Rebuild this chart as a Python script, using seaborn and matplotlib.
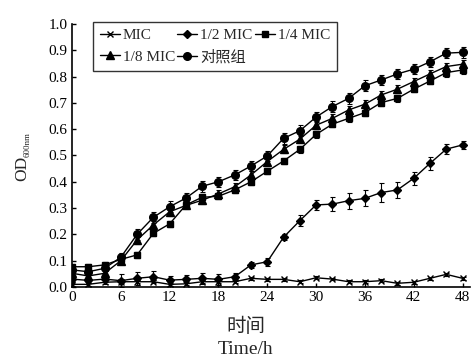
import pandas as pd
import matplotlib
matplotlib.use("Agg")
import matplotlib.pyplot as plt
import seaborn as sns

sns.set_style("ticks")
plt.rcParams['font.family'] = ['Liberation Serif', 'Noto Sans CJK SC']

# time points (h)
hours = [0, 2, 4, 6, 8, 10, 12, 14, 16, 18, 20, 22, 24, 26, 28, 30, 32, 34, 36, 38, 40, 42, 44, 46, 48]

mic = [0.010, 0.010, 0.018, 0.020, 0.020, 0.020, 0.010, 0.012, 0.020, 0.020, 0.020, 0.033, 0.029, 0.029, 0.020,
       0.035, 0.030, 0.020, 0.020, 0.024, 0.014, 0.018, 0.033, 0.048, 0.033]
half_mic = [0.030, 0.025, 0.030, 0.024, 0.033, 0.039, 0.026, 0.029, 0.033, 0.029, 0.039, 0.084, 0.096, 0.189, 0.252,
            0.312, 0.315, 0.328, 0.337, 0.359, 0.369, 0.413, 0.470, 0.524, 0.540]
quarter_mic = [0.077, 0.077, 0.084, 0.105, 0.122, 0.204, 0.240, 0.312, 0.341, 0.345, 0.369, 0.400, 0.440, 0.479, 0.523,
               0.580, 0.619, 0.641, 0.663, 0.701, 0.717, 0.752, 0.783, 0.815, 0.825]
eighth_mic = [0.052, 0.042, 0.052, 0.100, 0.179, 0.236, 0.286, 0.310, 0.330, 0.354, 0.381, 0.426, 0.477, 0.523, 0.562,
              0.615, 0.641, 0.673, 0.695, 0.730, 0.752, 0.781, 0.810, 0.838, 0.847]
control = [0.065, 0.058, 0.071, 0.113, 0.200, 0.265, 0.305, 0.338, 0.383, 0.400, 0.426, 0.460, 0.498, 0.565, 0.594,
           0.646, 0.686, 0.717, 0.765, 0.787, 0.810, 0.828, 0.856, 0.889, 0.892]

# error bars (SD)
mic_err = [0.005, 0.005, 0.005, 0.005, 0.005, 0.005, 0.005, 0.005, 0.005, 0.005, 0.005, 0.005, 0.005, 0.005, 0.005,
           0.005, 0.005, 0.005, 0.005, 0.005, 0.005, 0.005, 0.005, 0.005, 0.005]
half_err = [0.010, 0.010, 0.012, 0.025, 0.025, 0.020, 0.015, 0.015, 0.020, 0.020, 0.015, 0.012, 0.015, 0.012, 0.020,
            0.020, 0.028, 0.030, 0.030, 0.035, 0.030, 0.025, 0.025, 0.020, 0.015]
quarter_err = [0.010, 0.010, 0.010, 0.012, 0.012, 0.012, 0.012, 0.012, 0.012, 0.012, 0.012, 0.012, 0.012, 0.012, 0.012,
               0.012, 0.012, 0.012, 0.012, 0.012, 0.012, 0.012, 0.012, 0.015, 0.015]
eighth_err = [0.010, 0.010, 0.010, 0.012, 0.015, 0.015, 0.015, 0.015, 0.015, 0.015, 0.015, 0.015, 0.015, 0.015, 0.015,
              0.015, 0.015, 0.015, 0.015, 0.015, 0.015, 0.015, 0.015, 0.015, 0.015]
control_err = [0.012, 0.012, 0.012, 0.015, 0.020, 0.020, 0.020, 0.020, 0.020, 0.020, 0.020, 0.020, 0.020, 0.020, 0.020,
               0.020, 0.020, 0.020, 0.020, 0.020, 0.020, 0.020, 0.020, 0.020, 0.020]

series = [
    ("MIC", mic, mic_err, "x", 4.5),
    ("1/2 MIC", half_mic, half_err, "D", 4),
    ("1/4 MIC", quarter_mic, quarter_err, "s", 5),
    ("1/8 MIC", eighth_mic, eighth_err, "^", 5.5),
    ("对照组", control, control_err, "o", 5.5),
]

fig = plt.figure(figsize=(4.77, 3.59), dpi=100)
ax = fig.add_axes([0.151, 0.2006, 0.834, 0.7327])

for name, vals, err, mk, ms in series:
    df = pd.DataFrame({"t": hours, "od": vals})
    sns.lineplot(data=df, x="t", y="od", ax=ax, color="black", lw=1.0,
                 marker=mk, markersize=ms, markeredgecolor="black",
                 markeredgewidth=1.0, label=name, legend=False)
    ax.errorbar(hours, vals, yerr=err, fmt="none", ecolor="black",
                elinewidth=0.8, capsize=1.8, capthick=0.8)

names = [s[0] for s in series]
by_name = {l.get_label(): l for l in ax.get_lines() if l.get_label() in names}
# column-wise fill so rows read: MIC, 1/2, 1/4 / 1/8, control
order = ["MIC", "1/8 MIC", "1/2 MIC", "对照组", "1/4 MIC"]
leg = ax.legend([by_name[n] for n in order], order, ncol=3, loc="upper left",
                bbox_to_anchor=(0.053, 1.008), borderaxespad=0, fontsize=11,
                frameon=True, fancybox=False, edgecolor="black",
                handlelength=1.3, handletextpad=0.2, columnspacing=0.15,
                labelspacing=0.5, borderpad=0.45)
leg.get_frame().set_linewidth(1.0)

ax.set_xlim(0, 48.9)
ax.set_ylim(0, 1.0)
ax.set_xticks(range(0, 49, 6))
ax.set_yticks([i / 10 for i in range(11)])
ax.set_yticklabels([f"{i / 10:.1f}" for i in range(11)])
ax.tick_params(direction="in", length=3, width=1, labelsize=11, colors="black", pad=3)

sns.despine(ax=ax)
for sp in ["left", "bottom"]:
    ax.spines[sp].set_color("black")
    ax.spines[sp].set_linewidth(1.2)

ax.set_xlabel("时间\nTime/h", fontsize=14, linespacing=1.4)
ax.xaxis.set_label_coords(0.437, -0.118)
ax.xaxis.label.set_va("top")
ax.set_ylabel("")

# y label: OD with small subscript 600nm
fig.text(22 / 477, 1 - 168 / 359, "OD", rotation=90, ha="center", va="center", fontsize=12.5)
fig.text(28 / 477, 1 - 145 / 359, "600nm", rotation=90, ha="center", va="center", fontsize=6.5)

fig.savefig("out.png", dpi=100)
